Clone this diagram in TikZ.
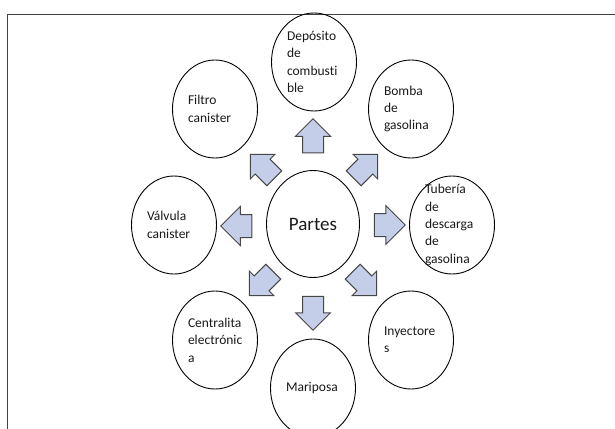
\documentclass[tikz,border=0pt]{standalone}
\usepackage{fontspec}
\setmainfont[Ligatures=NoCommon]{Carlito}
\usetikzlibrary{shapes.geometric,shapes.arrows}
\definecolor{arrowfill}{RGB}{197,206,232}
\definecolor{arrowline}{RGB}{70,70,70}

\begin{document}
\begin{tikzpicture}[x=1pt,y=-1pt,
    part/.style={draw,ellipse,line width=0.9pt,inner sep=0pt,minimum width=85pt,minimum height=98pt},
    txt/.style={align=left,text width=54pt,inner sep=0pt,text=black!90,font=\fontsize{13.5}{17.4}\selectfont},
    blk/.style={single arrow,draw=arrowline,fill=arrowfill,line width=1pt,inner sep=0pt,
      text height=20pt,text depth=0pt,minimum height=34pt,minimum width=34pt,
      single arrow head extend=7pt,single arrow tip angle=90}]
  \useasboundingbox (0,0) rectangle (615,428);
  \draw[line width=0.9pt,black!75] (7,430) -- (7,14) -- (617,14);

  \node[part,minimum width=93pt,minimum height=107pt] (partes) at (313,224) {};
  \node[inner sep=0pt,font=\fontsize{19}{22}\selectfont,text=black!90] (partes-t) at (partes) {Partes};

  \node[part] (dep) at (314,62) {};
  \node[txt] (dep-t) at (dep) {Depósito\\de\\combusti\\ble};
  \node[part] (filtro) at (215,109) {};
  \node[txt] (filtro-t) at (filtro) {Filtro\\canister};
  \node[part] (bomba) at (411,109) {};
  \node[txt] (bomba-t) at (bomba) {Bomba\\de\\gasolina};
  \node[part] (valv) at (174,225) {};
  \node[txt] (valv-t) at (valv) {Válvula\\canister};
  \node[part] (tub) at (452,225) {};
  \node[txt] (tub-t) at (tub) {Tubería\\de\\descarga\\de\\gasolina};
  \node[part] (cent) at (215,340) {};
  \node[txt] (cent-t) at (cent) {Centralita\\electrónic\\a};
  \node[part] (iny) at (411,340) {};
  \node[txt] (iny-t) at (iny) {Inyectore\\s};
  \node[part] (mari) at (313,388) {};
  \node[txt] (mari-t) at (mari) {Mariposa};

  \node[blk,rotate=90] (a-dep) at (313,141) {};
  \node[blk,rotate=45] (a-bomba) at (362,170) {};
  \node[blk,rotate=0,minimum height=31pt,minimum width=38pt,text height=22pt,single arrow head extend=8pt] (a-tub) at (384,225) {};
  \node[blk,rotate=-45] (a-iny) at (361,280) {};
  \node[blk,rotate=-90] (a-mari) at (313,308) {};
  \node[blk,rotate=-135] (a-cent) at (265,280) {};
  \node[blk,rotate=180,minimum height=31pt,minimum width=38pt,text height=22pt,single arrow head extend=8pt] (a-valv) at (242,226) {};
  \node[blk,rotate=135] (a-filtro) at (266,170) {};
\end{tikzpicture}
\end{document}
